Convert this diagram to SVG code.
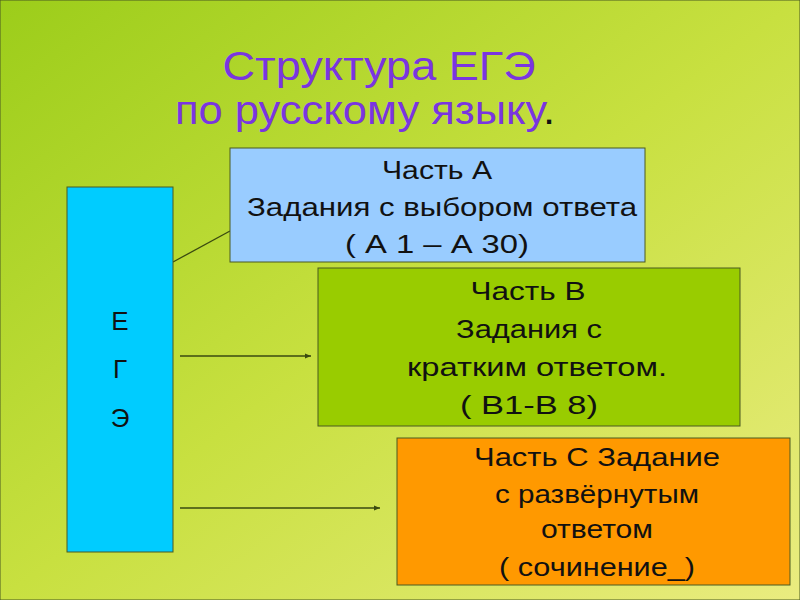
<svg xmlns="http://www.w3.org/2000/svg" width="800" height="600" viewBox="0 0 800 600">
<defs>
<linearGradient id="bg" x1="0" y1="0" x2="1" y2="1">
<stop offset="0" stop-color="#9ccd1a"/><stop offset="0.5" stop-color="#c8e040"/><stop offset="1" stop-color="#eaec80"/>
</linearGradient>
<marker id="ar" markerWidth="6" markerHeight="6" refX="5" refY="3" orient="auto"><path d="M0,1 L5,3 L0,5 z" fill="#3a4a10"/></marker>
</defs>
<style>
text{font-family:"Liberation Sans",Arial,sans-serif;font-size:26px;fill:#111;text-anchor:middle}
.t{font-size:40px;fill:#7a35e0}
rect{stroke:#4a5a20;stroke-width:1}
line{stroke:#3a4a10;stroke-width:1.3}
</style>
<rect x="0" y="0" width="800" height="600" fill="url(#bg)" stroke="none"/>
<g id="title">
<text class="t" x="379" y="80" textLength="313" lengthAdjust="spacingAndGlyphs">Структура ЕГЭ</text>
<text class="t" x="365" y="124" textLength="380" lengthAdjust="spacingAndGlyphs">по русскому языку<tspan fill="#111">.</tspan></text>
</g>
<g id="connectors">
<line x1="173" y1="262" x2="230" y2="231"/>
<line x1="180" y1="356" x2="311" y2="356" marker-end="url(#ar)"/>
<line x1="180" y1="508" x2="380" y2="508" marker-end="url(#ar)"/>
</g>
<g id="ege">
<rect x="67" y="187" width="106" height="365" fill="#00ccff"/>
<text x="120" y="330" font-size="30">Е</text>
<text x="120" y="378" font-size="30">Г</text>
<text x="120" y="427" font-size="30">Э</text>
</g>
<g id="partA">
<rect x="230" y="148" width="415" height="114" fill="#99ccff"/>
<text x="437" y="179" textLength="110" lengthAdjust="spacingAndGlyphs">Часть А</text>
<text x="442" y="216" textLength="390" lengthAdjust="spacingAndGlyphs">Задания с выбором ответа</text>
<text x="437" y="253" textLength="184" lengthAdjust="spacingAndGlyphs">( А 1 – А 30)</text>
</g>
<g id="partB">
<rect x="318" y="268" width="422" height="158" fill="#99cc00"/>
<text x="528" y="300" textLength="115" lengthAdjust="spacingAndGlyphs">Часть В</text>
<text x="529" y="338" textLength="146" lengthAdjust="spacingAndGlyphs">Задания с</text>
<text x="537" y="376" textLength="260" lengthAdjust="spacingAndGlyphs">кратким  ответом.</text>
<text x="529" y="414" textLength="138" lengthAdjust="spacingAndGlyphs">( В1-В 8)</text>
</g>
<g id="partC">
<rect x="397" y="438" width="393" height="147" fill="#ff9900"/>
<text x="597" y="466" textLength="246" lengthAdjust="spacingAndGlyphs">Часть С Задание</text>
<text x="597" y="503" textLength="204" lengthAdjust="spacingAndGlyphs">с развёрнутым</text>
<text x="597" y="538" textLength="112" lengthAdjust="spacingAndGlyphs">ответом</text>
<text x="597" y="576" textLength="196" lengthAdjust="spacingAndGlyphs">( сочинение_)</text>
</g>
</svg>
